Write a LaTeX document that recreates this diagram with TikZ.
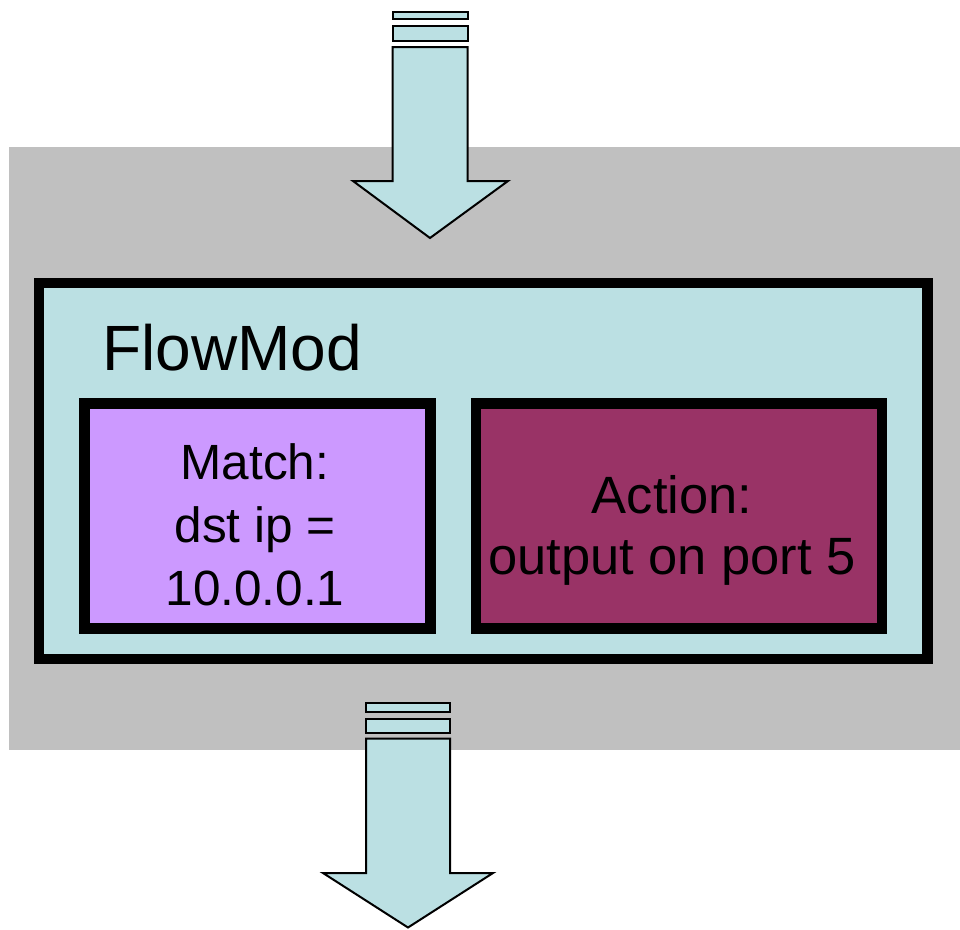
\documentclass[tikz,border=0pt]{standalone}
\usepackage{fontspec}
\setmainfont{Liberation Sans}
\definecolor{flowcyan}{HTML}{BBE0E3}
\definecolor{bggray}{HTML}{C0C0C0}
\definecolor{matchpurple}{HTML}{CC99FF}
\definecolor{actionmaroon}{HTML}{993366}
\tikzset{
  thickbox/.style={draw=black, line width=10.5pt, rectangle, inner sep=0pt, align=center},
  arrowshape/.style={draw=black, line width=2pt, fill=flowcyan, line join=miter},
  boxtext/.style={align=center, inner sep=0pt}
}
\begin{document}
\begin{tikzpicture}[x=1pt,y=-1pt]
\useasboundingbox (0,0) rectangle (960,929);
% background
\fill[bggray] (9,147) rectangle (960,750);
% top arrow
\draw[arrowshape] (392.5,12) rectangle (467.5,19);
\draw[arrowshape] (392.5,25.5) rectangle (467.5,41);
\draw[arrowshape] (392.5,47) -- (467.5,47) -- (467.5,181) -- (508,181) -- (430,238) -- (353,181) -- (392.5,181) -- cycle;
% FlowMod box
\node[thickbox, fill=flowcyan, minimum width=888.3pt, minimum height=375.7pt] (flowmod) at (483.2,470.9) {};
\node[anchor=base west, font=\fontsize{64}{77}\selectfont, inner sep=0pt] (title) at (102,370.7) {FlowMod};
\node[thickbox, fill=matchpurple, minimum width=345.6pt, minimum height=225.2pt] (match) at (257.5,516.1) {};
\node[boxtext, font=\fontsize{49.5}{63}\selectfont] (matchtext) at (255,525) {Match:\\dst ip =\\10.0.0.1};
\node[thickbox, fill=actionmaroon, minimum width=406pt, minimum height=225.2pt] (action) at (679,516.1) {};
\node[boxtext, font=\fontsize{52.5}{61}\selectfont] (actiontext) at (672,530) {Action:\\output on port 5};
% bottom arrow
\draw[arrowshape] (366,703) rectangle (450,712);
\draw[arrowshape] (366,718.5) rectangle (450,733);
\draw[arrowshape] (366,738.5) -- (450,738.5) -- (450,873) -- (493,873) -- (408,927.5) -- (323,873) -- (366,873) -- cycle;
\end{tikzpicture}
\end{document}
